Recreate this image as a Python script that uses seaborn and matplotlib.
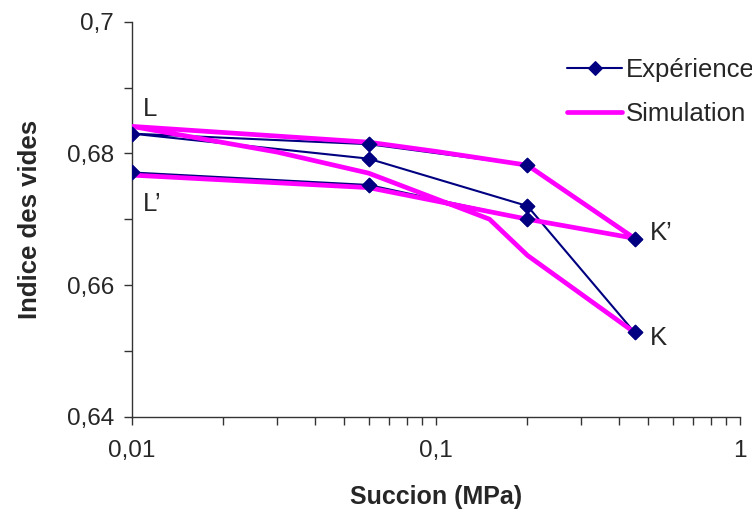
import pandas as pd
import matplotlib.pyplot as plt
import seaborn as sns
from matplotlib.ticker import LogLocator, NullFormatter

# Essai (losanges) : L' -> K' -> L -> K
exp_succion = [0.01, 0.06, 0.2, 0.45, 0.2, 0.06, 0.01, 0.06, 0.2, 0.45]
exp_indice = [0.6771, 0.6752, 0.6700, 0.6670, 0.6782, 0.6814, 0.6830, 0.6792, 0.6720, 0.6528]

# Simulation (trait magenta)
sim_succion = [0.01, 0.06, 0.2, 0.45, 0.2, 0.1, 0.06, 0.01, 0.03, 0.06, 0.15, 0.2, 0.45]
sim_indice = [0.6767, 0.6748, 0.6700, 0.6671, 0.6782, 0.6803, 0.6817, 0.6841, 0.6802, 0.6770, 0.6700, 0.6645, 0.6528]

# Points nommés
point_noms = ["L", "L\u2019", "K\u2019", "K"]
point_x = [0.0109, 0.0109, 0.505, 0.505]
point_y = [0.6867, 0.6723, 0.6679, 0.6519]

x_ticks = [0.01, 0.1, 1]
x_labels = ["0,01", "0,1", "1"]
y_ticks = [0.64, 0.66, 0.68, 0.70]
y_labels = ["0,64", "0,66", "0,68", "0,7"]

sns.set_style("white")
plt.rcParams['font.family'] = ['Liberation Sans', 'DejaVu Sans']

df_exp = pd.DataFrame({'Succion': exp_succion, 'Indice': exp_indice})
df_sim = pd.DataFrame({'Succion': sim_succion, 'Indice': sim_indice})

fig = plt.figure(figsize=(7.52, 5.17), dpi=100)
ax = fig.add_axes([0.1755, 0.194, 0.8085, 0.764])

sns.lineplot(data=df_exp, x='Succion', y='Indice', sort=False, estimator=None,
             color='#000080', linewidth=1.5, marker='D', markersize=7,
             markeredgecolor='#000080', label='Expérience', ax=ax, zorder=2)
sns.lineplot(data=df_sim, x='Succion', y='Indice', sort=False, estimator=None,
             color='#FF00FF', linewidth=3.4, label='Simulation', ax=ax, zorder=3)
# losanges par-dessus le trait de simulation
sns.scatterplot(data=df_exp, x='Succion', y='Indice', color='#000080', marker='D',
                s=60, edgecolor='#000080', linewidth=0.5, legend=False, ax=ax, zorder=4)

for nom, px, py in zip(point_noms, point_x, point_y):
    ax.text(px, py, nom, fontsize=18.5, va='center', ha='left')

ax.set_xscale('log')
ax.set_xlim(0.01, 1)
ax.set_ylim(0.64, 0.70)
ax.set_xticks(x_ticks)
ax.set_xticklabels(x_labels)
ax.xaxis.set_minor_locator(LogLocator(base=10, subs=range(2, 10)))
ax.xaxis.set_minor_formatter(NullFormatter())
ax.set_yticks(y_ticks)
ax.set_yticklabels(y_labels)
ax.set_yticks([0.65, 0.67, 0.69], minor=True)

ax.tick_params(axis='both', which='both', direction='out', length=6, width=1,
               color='#333333', labelsize=17.5, left=True, bottom=True)
ax.tick_params(axis='x', pad=11)
ax.tick_params(axis='y', pad=7)

for side in ['top', 'right']:
    ax.spines[side].set_visible(False)
for side in ['left', 'bottom']:
    ax.spines[side].set_color('#333333')
    ax.spines[side].set_linewidth(1)

ax.set_xlabel('Succion (MPa)', fontsize=18, fontweight='bold', labelpad=16)
ax.set_ylabel('Indice des vides', fontsize=18.5, fontweight='bold', labelpad=18)

ax.legend(loc='upper left', bbox_to_anchor=(0.754, 0.887), bbox_transform=fig.transFigure,
          frameon=False, fontsize=18.5, borderpad=0, borderaxespad=0,
          handlelength=2.15, handletextpad=0.15, labelspacing=0.75)

fig.savefig('out.png', dpi=100)
